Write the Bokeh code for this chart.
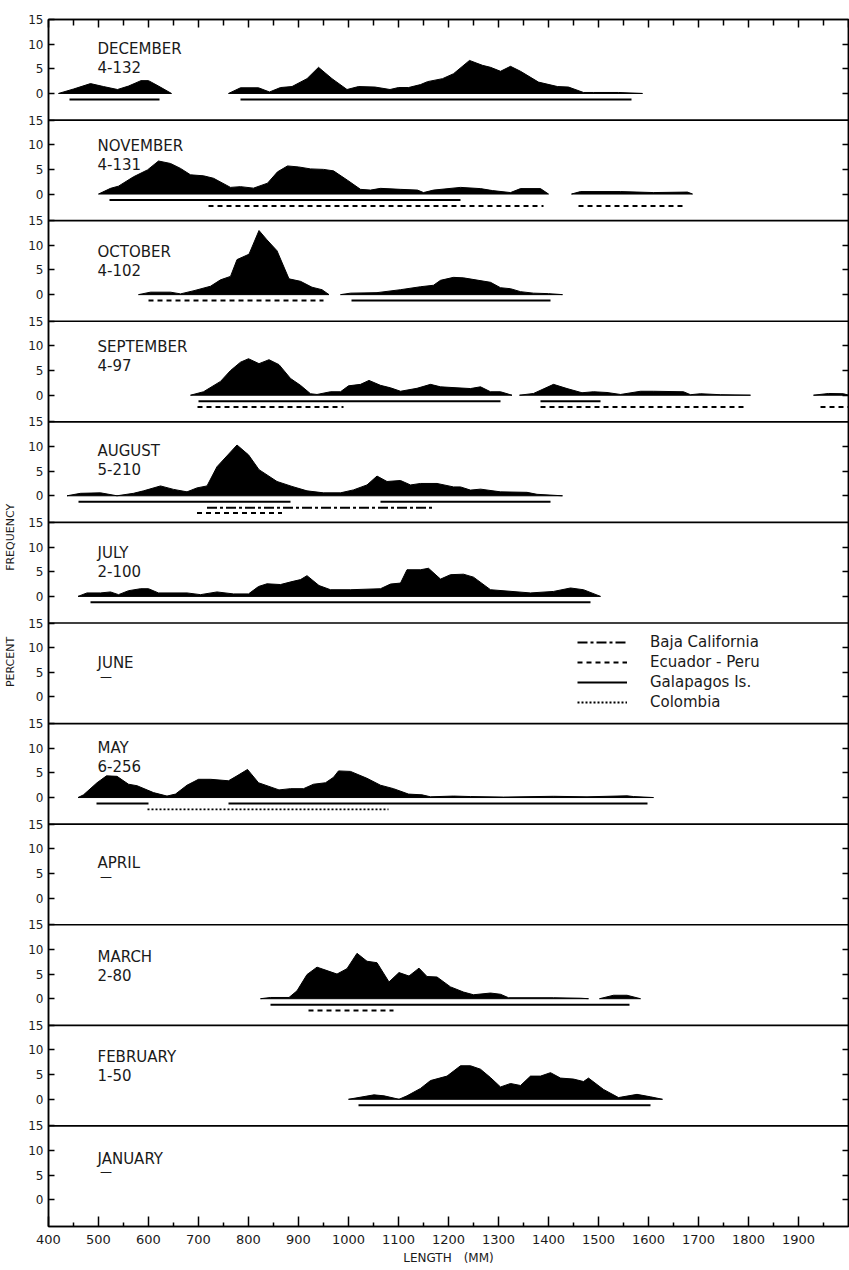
from bokeh.plotting import figure
from bokeh.models import Range1d, LinearAxis, FixedTicker, Span, Legend, LegendItem
from bokeh.core.properties import value
from bokeh.embed import file_html
from bokeh.resources import INLINE

# ---------------- data ----------------
months = ["DECEMBER", "NOVEMBER", "OCTOBER", "SEPTEMBER", "AUGUST", "JULY",
          "JUNE", "MAY", "APRIL", "MARCH", "FEBRUARY", "JANUARY"]
samples = ["4-132", "4-131", "4-102", "4-97", "5-210", "2-100",
           "\u2014", "6-256", "\u2014", "2-80", "1-50", "\u2014"]

length_ticks = list(range(400, 2000, 100))

# frequency polygons: length (mm) and percent frequency
dec_len_1 = [420, 450, 484, 510, 538, 560, 585, 600, 620, 646]
dec_pct_1 = [0, 0.9, 2.0, 1.4, 0.8, 1.5, 2.6, 2.6, 1.5, 0]
dec_len_2 = [760, 784, 820, 842, 864, 887, 917, 940, 967, 997, 1020, 1053, 1083, 1100,
             1120, 1144, 1158, 1188, 1210, 1242, 1268, 1284, 1304, 1324, 1344, 1380,
             1418, 1440, 1470, 1490, 1540, 1588]
dec_pct_2 = [0, 1.15, 1.15, 0.3, 1.2, 1.4, 3.0, 5.3, 3.0, 0.8, 1.4, 1.3, 0.8, 1.2,
             1.2, 1.8, 2.4, 3.0, 4.0, 6.7, 5.7, 5.3, 4.5, 5.5, 4.5, 2.3,
             1.4, 1.3, 0.2, 0.2, 0.2, 0]

nov_len_1 = [500, 524, 540, 570, 598, 620, 644, 664, 684, 710, 730, 764, 784, 810, 838,
             858, 878, 900, 924, 950, 970, 998, 1024, 1044, 1064, 1104, 1138, 1150, 1170,
             1224, 1264, 1288, 1324, 1344, 1384, 1400]
nov_pct_1 = [0, 1.15, 1.6, 3.5, 4.9, 6.7, 6.2, 5.2, 3.9, 3.7, 3.2, 1.35, 1.5, 1.2, 2.2,
             4.5, 5.7, 5.5, 5.1, 5.0, 4.7, 2.8, 0.95, 0.8, 1.15, 0.95, 0.8, 0.3, 0.8,
             1.35, 1.1, 0.7, 0.3, 1.1, 1.1, 0]
nov_len_2 = [1446, 1464, 1544, 1610, 1678, 1688]
nov_pct_2 = [0, 0.5, 0.5, 0.3, 0.4, 0]

oct_len_1 = [580, 604, 644, 664, 691, 724, 744, 764, 777, 801, 821, 837, 857, 881, 904,
             927, 947, 961]
oct_pct_1 = [0, 0.5, 0.5, 0.15, 0.8, 1.7, 3.0, 3.7, 7.1, 8.2, 13.0, 11.1, 8.9, 3.2, 2.7,
             1.5, 1.0, 0]
oct_len_2 = [984, 1004, 1057, 1104, 1144, 1170, 1184, 1210, 1230, 1284, 1304, 1324, 1344,
             1370, 1400, 1428]
oct_pct_2 = [0, 0.3, 0.4, 1.0, 1.6, 1.9, 2.9, 3.5, 3.4, 2.5, 1.4, 1.2, 0.6, 0.3, 0.2, 0]

sep_len_1 = [684, 710, 744, 764, 784, 800, 821, 841, 861, 884, 904, 924, 937, 964, 984,
             1000, 1024, 1041, 1064, 1084, 1104, 1137, 1164, 1184, 1217, 1244, 1264, 1284,
             1304, 1327]
sep_pct_1 = [0, 0.7, 2.8, 5.0, 6.7, 7.4, 6.4, 7.2, 6.2, 3.4, 2.0, 0.3, 0.15, 0.7, 0.7,
             1.9, 2.2, 3.0, 2.0, 1.5, 0.8, 1.4, 2.2, 1.7, 1.5, 1.35, 1.7, 0.7, 0.7, 0]
sep_len_2 = [1342, 1370, 1410, 1437, 1467, 1490, 1517, 1544, 1584, 1610, 1670, 1684, 1704,
             1744, 1804]
sep_pct_2 = [0, 0.35, 2.2, 1.35, 0.5, 0.7, 0.55, 0.15, 0.8, 0.8, 0.7, 0.1, 0.3, 0.1, 0]
sep_len_3 = [1930, 1960, 1990, 2000]
sep_pct_3 = [0, 0.35, 0.3, 0]

aug_len = [437, 464, 504, 537, 570, 590, 624, 650, 677, 697, 717, 737, 777, 800, 821, 857,
           887, 917, 950, 984, 1010, 1037, 1057, 1077, 1104, 1124, 1144, 1177, 1210, 1224,
           1244, 1264, 1304, 1357, 1377, 1428]
aug_pct = [0, 0.5, 0.6, 0, 0.5, 1.0, 2.0, 1.3, 0.8, 1.6, 2.0, 5.9, 10.3, 8.3, 5.3, 2.9,
           1.9, 1.0, 0.6, 0.6, 1.2, 2.2, 4.0, 2.9, 3.1, 2.2, 2.5, 2.5, 1.8, 1.8,
           1.15, 1.35, 0.8, 0.7, 0.3, 0]

jul_len = [459, 477, 504, 524, 540, 560, 584, 600, 620, 657, 677, 704, 737, 770, 800, 820,
           837, 864, 887, 904, 917, 941, 964, 1004, 1064, 1084, 1104, 1117, 1144, 1160,
           1184, 1204, 1230, 1250, 1284, 1327, 1364, 1410, 1444, 1470, 1504]
jul_pct = [0, 0.7, 0.7, 0.9, 0.35, 1.15, 1.55, 1.55, 0.7, 0.7, 0.7, 0.35, 0.9, 0.5, 0.5, 2.0,
           2.55, 2.4, 3.0, 3.4, 4.2, 2.2, 1.35, 1.35, 1.55, 2.5, 2.7, 5.4, 5.4, 5.7,
           3.5, 4.4, 4.5, 3.9, 1.35, 1.0, 0.7, 1.0, 1.7, 1.35, 0]

may_len = [459, 470, 497, 516, 537, 560, 577, 610, 637, 654, 677, 700, 724, 760, 777, 798,
           820, 837, 861, 884, 910, 930, 954, 970, 980, 1004, 1037, 1064, 1090, 1120, 1147,
           1164, 1210, 1244, 1310, 1410, 1477, 1557, 1570, 1610]
may_pct = [0, 0.55, 3.0, 4.4, 4.3, 2.7, 2.4, 1.0, 0.3, 0.7, 2.5, 3.7, 3.7, 3.4, 4.4, 5.7,
           3.0, 2.4, 1.55, 1.8, 1.8, 2.7, 3.0, 4.1, 5.4, 5.3, 3.9, 2.5, 1.8, 0.7, 0.55,
           0.15, 0.3, 0.2, 0.1, 0.25, 0.15, 0.35, 0.2, 0]

mar_len_1 = [824, 844, 881, 897, 917, 937, 957, 977, 997, 1017, 1037, 1057, 1081, 1101,
             1121, 1141, 1157, 1177, 1204, 1230, 1250, 1284, 1304, 1320, 1410, 1464, 1480]
mar_pct_1 = [0, 0.25, 0.25, 1.6, 4.9, 6.4, 5.7, 5.0, 6.1, 9.2, 7.6, 7.3, 3.4, 5.3,
             4.6, 6.2, 4.5, 4.4, 2.4, 1.35, 0.8, 1.15, 0.9, 0.2, 0.2, 0.1, 0]
mar_len_2 = [1502, 1530, 1557, 1584]
mar_pct_2 = [0, 0.7, 0.7, 0]

feb_len = [1000, 1051, 1071, 1101, 1117, 1144, 1164, 1197, 1224, 1244, 1264, 1284, 1304,
           1324, 1344, 1364, 1384, 1404, 1424, 1450, 1470, 1480, 1510, 1540, 1577, 1604, 1628]
feb_pct = [0, 0.9, 0.7, 0, 0.7, 2.2, 3.8, 4.7, 6.8, 6.8, 6.1, 4.4, 2.5,
           3.2, 2.8, 4.7, 4.7, 5.4, 4.3, 4.1, 3.6, 4.3, 2.0, 0.35, 1.0, 0.5, 0]

# size ranges by locality: (region, from mm, to mm, row under the baseline)
dec_ranges = [("G", 442, 622, 1), ("G", 784, 1566, 1)]
nov_ranges = [("G", 522, 1224, 1), ("E", 720, 1390, 2), ("E", 1460, 1676, 2)]
oct_ranges = [("E", 600, 950, 1), ("G", 1006, 1404, 1)]
sep_ranges = [("G", 700, 1304, 1), ("E", 698, 990, 2), ("G", 1384, 1504, 1),
              ("E", 1384, 1794, 2), ("E", 1944, 2000, 2)]
aug_ranges = [("G", 460, 884, 1), ("G", 1064, 1404, 1), ("B", 717, 1167, 2),
              ("E", 697, 867, 3)]
jul_ranges = [("G", 484, 1484, 1)]
may_ranges = [("G", 496, 600, 1), ("G", 760, 1598, 1), ("C", 598, 1080, 2)]
mar_ranges = [("G", 844, 1562, 1), ("E", 920, 1090, 2)]
feb_ranges = [("G", 1020, 1604, 1)]

regions = ["B", "E", "G", "C"]
region_names = ["Baja California", "Ecuador - Peru", "Galapagos Is.", "Colombia"]

# ---------------- layout / style ----------------
polys = [
    [(dec_len_1, dec_pct_1), (dec_len_2, dec_pct_2)],
    [(nov_len_1, nov_pct_1), (nov_len_2, nov_pct_2)],
    [(oct_len_1, oct_pct_1), (oct_len_2, oct_pct_2)],
    [(sep_len_1, sep_pct_1), (sep_len_2, sep_pct_2), (sep_len_3, sep_pct_3)],
    [(aug_len, aug_pct)],
    [(jul_len, jul_pct)],
    [],
    [(may_len, may_pct)],
    [],
    [(mar_len_1, mar_pct_1), (mar_len_2, mar_pct_2)],
    [(feb_len, feb_pct)],
    [],
]
ranges = [dec_ranges, nov_ranges, oct_ranges, sep_ranges, aug_ranges, jul_ranges,
          [], may_ranges, [], mar_ranges, feb_ranges, []]

region_dash = {"B": "10 3 3 3", "E": "5 4", "G": "solid", "C": "2 2"}
region_width = {"B": 2, "E": 2, "G": 2, "C": 1.8}
row_offset = {1: -1.2, 2: -2.4, 3: -3.5}
label_drop = [29, 25.5, 31, 26, 29, 31, 40, 24, 39, 32, 32, 33]

N = len(months)
PANEL = 20.4
LOW = 5.4
base = [round((N - 1 - i) * PANEL + LOW, 6) for i in range(N)]
YTOP = base[0] + 15
PX = 1207 / YTOP

FONT = "DejaVu Sans"
INK = "#1a1a1a"

p = figure(width=849, height=1270, x_range=Range1d(400, 2000), y_range=Range1d(0, YTOP),
           output_backend="svg", toolbar_location=None,
           x_axis_location=None, y_axis_location=None,
           min_border_left=48, min_border_right=1, min_border_top=19, min_border_bottom=44)
p.grid.visible = False
p.outline_line_color = "black"
p.outline_line_width = 1.5
p.background_fill_color = "white"
p.border_fill_color = "white"

# axes
xb = LinearAxis(ticker=FixedTicker(ticks=length_ticks,
                                   minor_ticks=[t + 50 for t in length_ticks]),
                axis_label="LENGTH\u2003(MM)")
xb.major_tick_in = 10
xb.major_tick_out = 0
xb.minor_tick_in = 4
xb.minor_tick_out = 0
xb.major_label_standoff = 8
xb.axis_label_standoff = 4
xb.major_label_text_font = FONT
xb.major_label_text_font_size = "13px"
xb.major_label_text_color = INK
xb.axis_label_text_font = FONT
xb.axis_label_text_font_size = "12px"
xb.axis_label_text_font_style = "normal"
xb.axis_label_text_color = INK
xb.axis_line_width = 1.5
xb.major_tick_line_width = 1.5
xb.minor_tick_line_width = 1.5
p.add_layout(xb, "below")

top_ticks = length_ticks + [2000]
xt = LinearAxis(ticker=FixedTicker(ticks=top_ticks,
                                   minor_ticks=[t + 50 for t in length_ticks]),
                major_label_overrides={t: "" for t in top_ticks})
xt.major_tick_in = 8
xt.major_tick_out = 0
xt.minor_tick_in = 6
xt.minor_tick_out = 0
xt.major_label_standoff = 0
xt.major_label_text_font_size = "1px"
xt.axis_line_width = 1.5
xt.major_tick_line_width = 1.5
xt.minor_tick_line_width = 1.5
p.add_layout(xt, "above")

yticks, ylabels = [], {}
for b in base:
    for v in (0, 5, 10, 15):
        t = round(b + v, 6)
        yticks.append(t)
        ylabels[t] = str(v)
yl = LinearAxis(ticker=FixedTicker(ticks=yticks, minor_ticks=[]),
                major_label_overrides=ylabels,
                axis_label="\u2003" * 5 + "PERCENT" + "\u2003" * 6 + "FREQUENCY")
yl.major_tick_in = 6
yl.major_tick_out = 0
yl.major_label_standoff = 5
yl.major_label_text_font = FONT
yl.major_label_text_font_size = "12px"
yl.major_label_text_color = INK
yl.axis_label_standoff = 8
yl.axis_label_text_font = FONT
yl.axis_label_text_font_size = "11px"
yl.axis_label_text_font_style = "normal"
yl.axis_label_text_color = INK
yl.axis_line_width = 1.5
yl.major_tick_line_width = 1.5
p.add_layout(yl, "left")

rticks = [round(b + v, 6) for b in base for v in (0, 5, 10)]
yr = LinearAxis(ticker=FixedTicker(ticks=rticks, minor_ticks=[]),
                major_label_overrides={t: "" for t in rticks})
yr.major_tick_in = 6
yr.major_tick_out = 0
yr.major_label_standoff = 0
yr.major_label_text_font_size = "1px"
yr.axis_line_width = 1.5
yr.major_tick_line_width = 1.5
p.add_layout(yr, "right")

# panel separators
for b in base[:-1]:
    p.add_layout(Span(location=round(b - LOW, 6), dimension="width",
                      line_color="black", line_width=1.6))

# frequency polygons
pxs, pys = [], []
for i, segs in enumerate(polys):
    for lens, pcts in segs:
        pxs.append(list(lens))
        pys.append([base[i] + v for v in pcts])
p.patches(xs=pxs, ys=pys, fill_color="black", line_color="black", line_width=1)

# range lines by locality
renderers = {}
for r in regions:
    xs, ys = [], []
    for i, rl in enumerate(ranges):
        for reg, a, z, row in rl:
            if reg == r:
                yy = base[i] + row_offset[row]
                xs.append([a, z])
                ys.append([yy, yy])
    renderers[r] = p.multi_line(xs=xs, ys=ys, line_color="black",
                                line_width=region_width[r], line_dash=region_dash[r])

# month labels
nx, ny, nt = [], [], []
cx, cy, ct = [], [], []
dx, dy, dt = [], [], []
for i in range(N):
    top = base[i] + 15
    nx.append(498)
    ny.append(top - label_drop[i] / PX)
    nt.append(months[i])
    if samples[i] == "\u2014":
        dx.append(503)
        dy.append(top - (label_drop[i] + 13.5) / PX)
        dt.append(samples[i])
    else:
        cx.append(498)
        cy.append(top - (label_drop[i] + 18) / PX)
        ct.append(samples[i])

p.text(x=nx, y=ny, text=nt, text_font=value(FONT), text_font_size="15px",
       text_color=INK, text_baseline="alphabetic", text_align="left")
p.text(x=cx, y=cy, text=ct, text_font=value(FONT), text_font_size="15px",
       text_color=INK, text_baseline="alphabetic", text_align="left")
p.text(x=dx, y=dy, text=dt, text_font=value(FONT), text_font_size="12px",
       text_color=INK, text_baseline="alphabetic", text_align="left")

legend = Legend(items=[LegendItem(label=region_names[k], renderers=[renderers[r]])
                       for k, r in enumerate(regions)],
                location=(529, 515), orientation="vertical",
                glyph_width=50, glyph_height=16, label_height=16, spacing=2,
                padding=0, margin=0, label_standoff=23,
                background_fill_alpha=0, border_line_alpha=0,
                label_text_font=FONT, label_text_font_size="15px",
                label_text_color=INK)
p.add_layout(legend)

open("out.html", "w").write(file_html(p, INLINE))
